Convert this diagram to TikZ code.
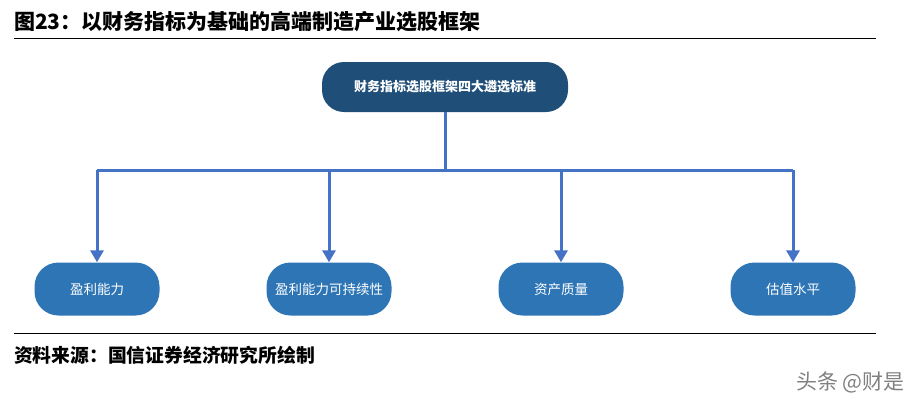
\documentclass[tikz,border=0pt]{standalone}
\usepackage{fontspec}
\newfontfamily\cjk{Noto Sans CJK SC}
\usetikzlibrary{arrows.meta}
\definecolor{navy}{HTML}{1F4E79}
\definecolor{midblue}{HTML}{2E75B6}
\definecolor{linkblue}{HTML}{4472C4}
\tikzset{
  topbox/.style={draw=none,fill=navy,rounded corners=22pt,minimum width=246pt,minimum height=50pt,text=white,font=\cjk\bfseries\fontsize{13}{15}\selectfont},
  leafbox/.style={draw=none,fill=midblue,rounded corners=24pt,minimum width=125pt,minimum height=53pt,text=white,font=\cjk\fontsize{13.5}{15}\selectfont},
  link/.style={draw=linkblue,line width=3pt,-{Triangle[length=12pt,width=13pt]}},
  linkplain/.style={draw=linkblue,line width=3pt}
}
\begin{document}
\begin{tikzpicture}[x=1pt,y=-1pt]
\useasboundingbox (0,0) rectangle (919,405);
\node[anchor=west,inner sep=1pt,font=\cjk\bfseries\fontsize{21}{23}\selectfont] (title) at (13,22) {图23：以财务指标为基础的高端制造产业选股框架};
\draw[line width=0.8pt] (14,38) -- (876,38);
\draw[line width=0.8pt] (14,333) -- (876,333);
\node[anchor=west,inner sep=1pt,font=\cjk\bfseries\fontsize{18.8}{20}\selectfont] (src) at (13,355) {资料来源：国信证券经济研究所绘制};
\node[anchor=east,inner sep=1pt,text=gray,font=\cjk\fontsize{21}{23}\selectfont] (wm) at (906,382) {头条 @财是};
\node[topbox] (top) at (445,87) {财务指标选股框架四大遴选标准};
\node[leafbox] (a) at (97,289) {盈利能力};
\node[leafbox] (b) at (329,289) {盈利能力可持续性};
\node[leafbox] (c) at (561,289) {资产质量};
\node[leafbox] (d) at (793,289) {估值水平};
\coordinate (j) at (445,170);
\draw[linkplain] (top.south) -- (j);
\draw[linkplain] (a.north |- j) -- (d.north |- j);
\foreach \n in {a,b,c,d} \draw[link] (\n.north |- j) -- (\n.north);
\end{tikzpicture}
\end{document}
